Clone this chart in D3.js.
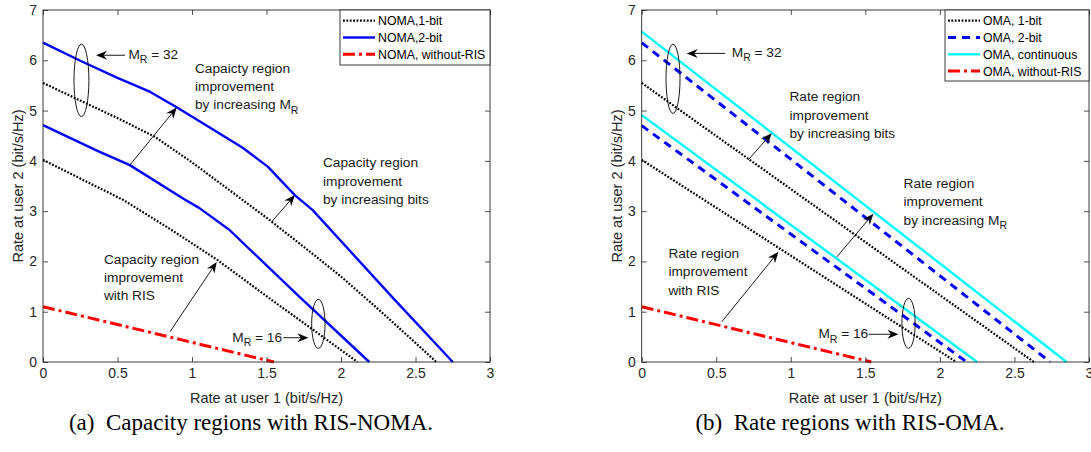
<!DOCTYPE html>
<html><head><meta charset="utf-8">
<script src="https://cdn.jsdelivr.net/npm/d3@7/dist/d3.min.js"></script>
<style>body{margin:0;background:#fff}svg{display:block}</style>
</head><body><svg id="c" width="1091" height="452"></svg>
<script>
// ---------- tick labels ----------
const xTicks = [0, 0.5, 1, 1.5, 2, 2.5, 3];
const xTickLabels = ["0", "0.5", "1", "1.5", "2", "2.5", "3"];
const yTicks = [0, 1, 2, 3, 4, 5, 6, 7];
const yTickLabels = ["0", "1", "2", "3", "4", "5", "6", "7"];
const xLabel = "Rate at user 1 (bit/s/Hz)";
const yLabel = "Rate at user 2 (bit/s/Hz)";

// ---------- (a) RIS-NOMA capacity regions: [rate user1, rate user2] ----------
const nomaBit1M32 = [[0,5.55],[0.25,5.2],[0.5,4.85],[0.75,4.48],[1.0,3.97],[1.25,3.42],[1.5,2.87],[1.75,2.29],[2.0,1.70],[2.25,1.05],[2.5,0.38],[2.64,0]];
const nomaBit1M16 = [[0,4.02],[0.27,3.62],[0.54,3.22],[0.85,2.65],[1.17,2.03],[1.5,1.31],[1.85,0.56],[2.11,0]];
const nomaBit2M32 = [[0,6.35],[0.25,5.99],[0.5,5.65],[0.72,5.37],[0.9,5.06],[1.1,4.70],[1.34,4.26],[1.51,3.88],[1.69,3.32],[1.81,3.02],[2.35,1.27],[2.75,0]];
const nomaBit2M16 = [[0,4.71],[0.38,4.18],[0.58,3.92],[0.94,3.25],[1.05,3.06],[1.25,2.63],[1.72,1.30],[2.19,0]];
const nomaNoRIS = [[0,1.1],[1.55,0]];

// ---------- (b) RIS-OMA rate regions ----------
const omaBit1M32 = [[0,5.55],[2.63,0]];
const omaBit2M32 = [[0,6.35],[2.74,0]];
const omaContM32 = [[0,6.57],[2.85,0]];
const omaBit1M16 = [[0,4.02],[2.11,0]];
const omaBit2M16 = [[0,4.70],[2.18,0]];
const omaContM16 = [[0,4.91],[2.25,0]];
const omaNoRIS = [[0,1.1],[1.54,0]];

const legendA = ["NOMA,1-bit", "NOMA,2-bit", "NOMA, without-RIS"];
const legendB = ["OMA, 1-bit", "OMA, 2-bit", "OMA, continuous", "OMA, without-RIS"];
const captionA = "(a)  Capacity regions with RIS-NOMA.";
const captionB = "(b)  Rate regions with RIS-OMA.";

// ---------- styles ----------
const S = {
  bit1: {color:"#000", width:2.2, dash:"1.8,1.6"},
  bit2solid: {color:"#0000ff", width:2.4, dash:null},
  bit2dash: {color:"#0000ff", width:3, dash:"8,6"},
  cont: {color:"#00ffff", width:2.4, dash:null},
  noris: {color:"#ff0000", width:3, dash:"12,4,3,4"}
};
const SANS = "'Liberation Sans', Arial, Helvetica, sans-serif";
const TXT = "#262626";

const svg = d3.select("#c");

function panel(cfg) {
  const x = d3.scaleLinear().domain([0,3]).range([cfg.x0, cfg.x1]);
  const y = d3.scaleLinear().domain([0,7]).range([362, 10]);
  const g = svg.append("g");
  const line = d3.line().x(d => x(d[0])).y(d => y(d[1]));

  // series
  cfg.series.forEach(s => {
    g.append("path").attr("d", line(s.data)).attr("fill","none")
      .attr("stroke", s.style.color).attr("stroke-width", s.style.width)
      .attr("stroke-dasharray", s.style.dash).attr("stroke-linejoin","round");
  });

  // axes
  const fmtX = (d,i) => xTickLabels[i];
  const fmtY = (d,i) => yTickLabels[i];
  const ax = [
    g.append("g").attr("transform",`translate(0,362)`).call(d3.axisBottom(x).tickValues(xTicks).tickFormat(fmtX).tickSizeInner(-5).tickSizeOuter(0).tickPadding(6)),
    g.append("g").attr("transform",`translate(0,10)`).call(d3.axisTop(x).tickValues(xTicks).tickFormat("").tickSizeInner(-5).tickSizeOuter(0)),
    g.append("g").attr("transform",`translate(${cfg.x0},0)`).call(d3.axisLeft(y).tickValues(yTicks).tickFormat(fmtY).tickSizeInner(-5).tickSizeOuter(0).tickPadding(6)),
    g.append("g").attr("transform",`translate(${cfg.x1},0)`).call(d3.axisRight(y).tickValues(yTicks).tickFormat("").tickSizeInner(-5).tickSizeOuter(0))
  ];
  ax.forEach(a => {
    a.select(".domain").remove();
    a.selectAll("line").attr("stroke", TXT).attr("stroke-width", 0.8);
    a.selectAll("text").attr("fill", TXT).style("font-family", SANS).style("font-size","14px");
  });
  g.append("rect").attr("x", cfg.x0).attr("y", 10).attr("width", cfg.x1-cfg.x0).attr("height", 352)
    .attr("fill","none").attr("stroke", TXT).attr("stroke-width", 0.9);

  // axis labels
  g.append("text").attr("x", (cfg.x0+cfg.x1)/2).attr("y", 403).attr("text-anchor","middle")
    .style("font-family",SANS).style("font-size","14.5px").attr("fill",TXT).text(xLabel);
  g.append("text").attr("transform",`translate(${cfg.x0-20},186) rotate(-90)`).attr("text-anchor","middle")
    .style("font-family",SANS).style("font-size","14.5px").attr("fill",TXT).text(yLabel);

  // ellipses
  cfg.ellipses.forEach(e => {
    const cx = (x(e.xr[0])+x(e.xr[1]))/2, cy = (y(e.yr[0])+y(e.yr[1]))/2;
    g.append("ellipse").attr("cx",cx).attr("cy",cy)
      .attr("rx",Math.abs(x(e.xr[1])-x(e.xr[0]))/2).attr("ry",Math.abs(y(e.yr[1])-y(e.yr[0]))/2)
      .attr("fill","none").attr("stroke","#000").attr("stroke-width",0.9);
  });

  // arrows
  cfg.arrows.forEach(a => {
    const x1 = x(a.from[0]), y1 = y(a.from[1]), x2 = x(a.to[0]), y2 = y(a.to[1]);
    const ang = Math.atan2(y2-y1, x2-x1);
    const L = 11, W = 4.5, N = 7.5;
    const ux = Math.cos(ang), uy = Math.sin(ang), px = -uy, py = ux;
    g.append("line").attr("x1",x1).attr("y1",y1).attr("x2",x2-ux*N).attr("y2",y2-uy*N)
      .attr("stroke","#000").attr("stroke-width",0.9);
    const pts = [[x2,y2],[x2-ux*L+px*W, y2-uy*L+py*W],[x2-ux*N, y2-uy*N],[x2-ux*L-px*W, y2-uy*L-py*W]];
    g.append("path").attr("d","M"+pts.map(p=>p.join(",")).join("L")+"Z").attr("fill","#000");
  });

  // annotation texts
  cfg.texts.forEach(t => {
    const tx = g.append("text").attr("x", x(t.at[0])).attr("y", y(t.at[1]))
      .style("font-family",SANS).style("font-size","13.7px").attr("fill","#1a1a1a");
    t.lines.forEach((ln, i) => {
      const parts = ln.split("_R");
      tx.append("tspan").attr("x", x(t.at[0])).attr("dy", i===0 ? 0 : 18.4).text(parts[0]);
      if (parts.length > 1) {
        tx.append("tspan").attr("dy", 4.5).style("font-size","10.5px").text("R");
        tx.append("tspan").attr("dy", -4.5).text(parts[1]);
      }
    });
  });

  // legend
  const L = cfg.legend;
  const lg = g.append("g");
  lg.append("rect").attr("x",L.x).attr("y",10).attr("width",cfg.x1-L.x).attr("height",L.h)
    .attr("fill","#fff").attr("stroke",TXT).attr("stroke-width",0.9);
  L.items.forEach((it,i) => {
    const yy = 20.7 + i*16.8;
    lg.append("line").attr("x1",L.x+3).attr("x2",L.x+35).attr("y1",yy).attr("y2",yy)
      .attr("stroke",it.style.color).attr("stroke-width",it.style.width).attr("stroke-dasharray",it.style.dash);
    lg.append("text").attr("x",L.x+38).attr("y",yy).attr("dy","0.36em")
      .style("font-family",SANS).style("font-size","12.3px").attr("fill","#000").text(it.label);
  });

  // caption
  g.append("text").attr("x", cfg.capX).attr("y", 430).attr("text-anchor","middle")
    .style("font-family","'Liberation Serif', 'Times New Roman', serif").style("font-size","23px")
    .attr("fill","#000").style("white-space","pre").text(cfg.caption);
}

panel({
  x0: 43, x1: 490, capX: 251, caption: captionA,
  series: [
    {data: nomaBit1M32, style: S.bit1}, {data: nomaBit1M16, style: S.bit1},
    {data: nomaBit2M32, style: S.bit2solid}, {data: nomaBit2M16, style: S.bit2solid},
    {data: nomaNoRIS, style: S.noris}
  ],
  legend: {x: 340, h: 55, items: [
    {label: legendA[0], style: S.bit1}, {label: legendA[1], style: S.bit2solid}, {label: legendA[2], style: S.noris}]},
  ellipses: [{xr:[0.208,0.308], yr:[4.88,6.32]}, {xr:[1.803,1.893], yr:[0.27,1.247]}],
  arrows: [
    {from:[0.55,6.10], to:[0.356,6.10]},
    {from:[1.613,0.483], to:[1.781,0.483]},
    {from:[0.584,3.92], to:[0.897,5.06]},
    {from:[1.535,2.79], to:[1.691,3.32]},
    {from:[0.852,0.60], to:[1.166,1.99]}
  ],
  texts: [
    {at:[0.573,6.034], lines:["M_R = 32"]},
    {at:[1.27,0.404], lines:["M_R = 16"]},
    {at:[1.02,5.755], lines:["Capaicty region","improvement","by increasing M_R"]},
    {at:[1.879,3.873], lines:["Capacity region","improvement","by increasing bits"]},
    {at:[0.409,1.958], lines:["Capacity region","improvement","with RIS"]}
  ]
});

panel({
  x0: 641.7, x1: 1089, capX: 850, caption: captionB,
  series: [
    {data: omaBit1M32, style: S.bit1}, {data: omaBit1M16, style: S.bit1},
    {data: omaBit2M32, style: S.bit2dash}, {data: omaBit2M16, style: S.bit2dash},
    {data: omaContM32, style: S.cont}, {data: omaContM16, style: S.cont},
    {data: omaNoRIS, style: S.noris}
  ],
  legend: {x: 945, h: 71, items: [
    {label: legendB[0], style: S.bit1}, {label: legendB[1], style: S.bit2dash},
    {label: legendB[2], style: S.cont}, {label: legendB[3], style: S.noris}]},
  ellipses: [{xr:[0.163,0.257], yr:[4.944,6.32]}, {xr:[1.745,1.834], yr:[0.272,1.266]}],
  arrows: [
    {from:[0.559,6.137], to:[0.302,6.137]},
    {from:[1.521,0.551], to:[1.722,0.551]},
    {from:[0.715,4.02], to:[0.872,4.55]},
    {from:[1.309,2.09], to:[1.554,2.95]},
    {from:[0.537,0.80], to:[0.917,2.19]}
  ],
  texts: [
    {at:[0.604,6.07], lines:["M_R = 32"]},
    {at:[1.185,0.471], lines:["M_R = 16"]},
    {at:[0.991,5.185], lines:["Rate region","improvement","by increasing bits"]},
    {at:[1.756,3.463], lines:["Rate region","improvement","by increasing M_R"]},
    {at:[0.179,2.07], lines:["Rate region","improvement","with RIS"]}
  ]
});
</script></body></html>
